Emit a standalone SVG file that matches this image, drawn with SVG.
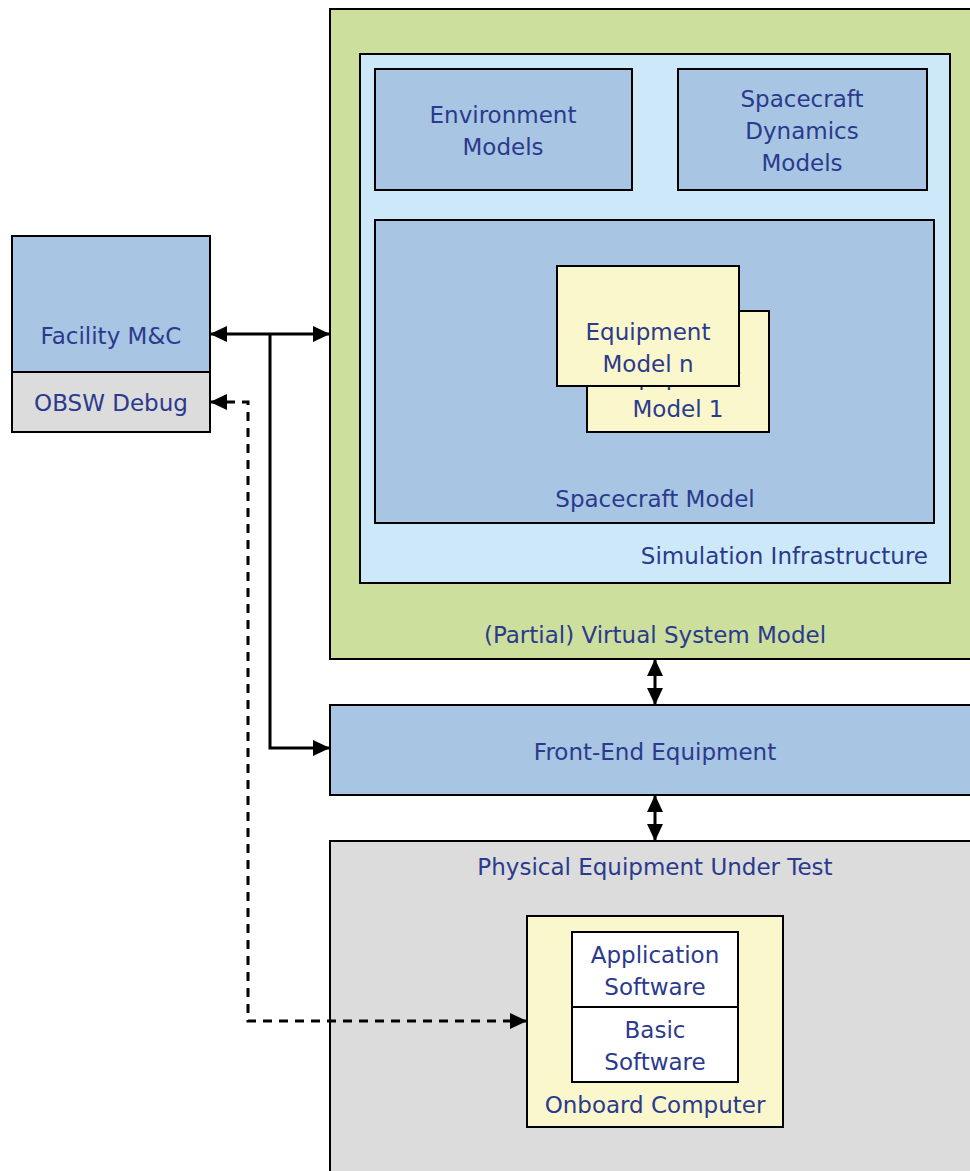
<svg xmlns="http://www.w3.org/2000/svg" width="970" height="1171" viewBox="0 0 970 1171">
<style>
text{font-family:"DejaVu Sans","Liberation Sans",sans-serif;font-size:23px;fill:#2b3a8c;text-anchor:middle}
.b{stroke:#000;stroke-width:2}
.blue{fill:#a8c5e3}
.ln{fill:none;stroke:#000;stroke-width:3}
.dash{fill:none;stroke:#000;stroke-width:3;stroke-dasharray:9,7}
</style>
<defs>
<marker id="ah" viewBox="0 0 17 16" refX="17" refY="8" markerWidth="17" markerHeight="16" markerUnits="userSpaceOnUse" orient="auto-start-reverse">
<path d="M0,0 L17,8 L0,16 z" fill="#000"/>
</marker>
</defs>
<g id="vsm">
<rect x="330" y="9" width="660" height="650" fill="#cddf9d" class="b"/>
<text x="655" y="643">(Partial) Virtual System Model</text>
</g>
<g id="siminfra">
<rect x="360" y="54" width="590" height="529" fill="#cde9f9" class="b"/>
<text x="928" y="564" style="text-anchor:end">Simulation Infrastructure</text>
</g>
<g id="env">
<rect x="375" y="69" width="257" height="121" class="b blue"/>
<text x="503" y="123">Environment</text>
<text x="503" y="155">Models</text>
</g>
<g id="dyn">
<rect x="678" y="69" width="249" height="121" class="b blue"/>
<text x="802" y="107">Spacecraft</text>
<text x="802" y="139">Dynamics</text>
<text x="802" y="171">Models</text>
</g>
<g id="scmodel">
<rect x="375" y="220" width="559" height="303" class="b blue"/>
<text x="655" y="507">Spacecraft Model</text>
</g>
<g id="eq1">
<rect x="587" y="311" width="182" height="121" fill="#faf7cc" class="b"/>
<text x="678" y="385">Equipment</text>
<text x="678" y="417">Model 1</text>
</g>
<g id="eqn">
<rect x="557" y="266" width="182" height="120" fill="#faf7cc" class="b"/>
<text x="648" y="340">Equipment</text>
<text x="648" y="372">Model n</text>
</g>
<g id="facility">
<rect x="12" y="236" width="198" height="136" class="b blue"/>
<text x="111" y="344">Facility M&amp;C</text>
</g>
<g id="obsw">
<rect x="12" y="372" width="198" height="60" fill="#dcdcdc" class="b"/>
<text x="111" y="411">OBSW Debug</text>
</g>
<g id="fee">
<rect x="330" y="705" width="660" height="90" class="b blue"/>
<text x="655" y="760">Front-End Equipment</text>
</g>
<g id="peut">
<rect x="330" y="841" width="660" height="350" fill="#dcdcdc" class="b"/>
<text x="655" y="875">Physical Equipment Under Test</text>
</g>
<g id="obc">
<rect x="527" y="916" width="256" height="211" fill="#faf7cc" class="b"/>
<text x="655" y="1113">Onboard Computer</text>
<rect x="572" y="932" width="166" height="75" fill="#fff" class="b"/>
<text x="655" y="963">Application</text>
<text x="655" y="995">Software</text>
<rect x="572" y="1007" width="166" height="75" fill="#fff" class="b"/>
<text x="655" y="1038">Basic</text>
<text x="655" y="1070">Software</text>
</g>
<g id="connectors">
<line x1="210" y1="334" x2="330" y2="334" class="ln" marker-start="url(#ah)" marker-end="url(#ah)"/>
<polyline points="270,334 270,748 330,748" class="ln" marker-end="url(#ah)"/>
<polyline points="210,402 248,402 248,1021 527,1021" class="dash" marker-start="url(#ah)" marker-end="url(#ah)"/>
<line x1="655" y1="659" x2="655" y2="705" class="ln" marker-start="url(#ah)" marker-end="url(#ah)"/>
<line x1="655" y1="795" x2="655" y2="841" class="ln" marker-start="url(#ah)" marker-end="url(#ah)"/>
</g>
</svg>
